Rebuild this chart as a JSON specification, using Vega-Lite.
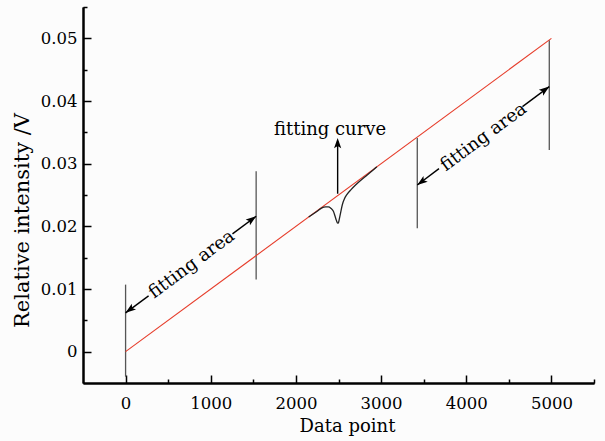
{
  "$schema": "https://vega.github.io/schema/vega-lite/v6.json",
  "width": 511,
  "height": 376,
  "autosize": {"type": "none"},
  "padding": {"left": 83, "top": 7, "right": 11, "bottom": 58},
  "background": "#fcfcfc",
  "config": {"view": {"stroke": null}, "font": "DejaVu Serif"},
  "resolve": {"axis": {"x": "independent", "y": "independent"}},
  "datasets": {
    "line": [{"x": 0, "y": 0}, {"x": 5000, "y": 0.05}],
    "fit": [
      {"x": 2150, "y": 0.0215}, {"x": 2250, "y": 0.0224}, {"x": 2300, "y": 0.0229},
      {"x": 2350, "y": 0.0231}, {"x": 2380, "y": 0.0231}, {"x": 2410, "y": 0.0229},
      {"x": 2440, "y": 0.0224}, {"x": 2460, "y": 0.0216}, {"x": 2475, "y": 0.02095},
      {"x": 2490, "y": 0.0205}, {"x": 2500, "y": 0.0206}, {"x": 2510, "y": 0.0212},
      {"x": 2525, "y": 0.0222}, {"x": 2545, "y": 0.02345}, {"x": 2570, "y": 0.0244},
      {"x": 2600, "y": 0.0251}, {"x": 2650, "y": 0.0259}, {"x": 2700, "y": 0.0266},
      {"x": 2800, "y": 0.0278}, {"x": 2900, "y": 0.0289}, {"x": 2950, "y": 0.0295}
    ],
    "bounds": [
      {"x": 0, "y": -0.004, "y2": 0.0107},
      {"x": 1533, "y": 0.0115, "y2": 0.0288},
      {"x": 3425, "y": 0.0197, "y2": 0.0341},
      {"x": 4975, "y": 0.0322, "y2": 0.0497}
    ],
    "shafts": [
      {"x": 2490, "y": 0.0252, "x2": 2490, "y2": 0.0336},
      {"x": 0, "y": 0.0062, "x2": 270, "y2": 0.0089},
      {"x": 1255, "y": 0.0188, "x2": 1533, "y2": 0.0216},
      {"x": 3425, "y": 0.0266, "x2": 3680, "y2": 0.0292},
      {"x": 4660, "y": 0.0391, "x2": 4975, "y2": 0.0423}
    ],
    "heads": [
      {"x": 2490, "y": 0.0341, "dir": "up"},
      {"x": 0, "y": 0.0062, "dir": "downleft"},
      {"x": 3425, "y": 0.0266, "dir": "downleft"},
      {"x": 1533, "y": 0.0216, "dir": "upright"},
      {"x": 4975, "y": 0.0423, "dir": "upright"}
    ],
    "labels": [
      {"x": 2400, "y": 0.0346, "text": "fitting curve"}
    ],
    "slanted": [
      {"x": 778, "y": 0.0139, "text": "fitting area"},
      {"x": 4205, "y": 0.0342, "text": "fitting area"}
    ]
  },
  "layer": [
    {
      "data": {"name": "bounds"},
      "mark": {"type": "rule", "color": "#555555", "strokeWidth": 1.3},
      "encoding": {
        "x": {
          "field": "x", "type": "quantitative",
          "scale": {"domain": [-500, 5500], "nice": false, "zero": false},
          "axis": {
            "orient": "bottom",
            "title": "Data point",
            "values": [0, 1000, 2000, 3000, 4000, 5000],
            "format": "d",
            "labelOverlap": false, "labelFlush": false,
            "grid": false,
            "domainColor": "black", "domainWidth": 2,
            "tickColor": "black", "tickWidth": 1.5, "tickSize": -8,
            "labelFont": "DejaVu Serif", "labelFontSize": 16.5, "labelColor": "black", "labelPadding": 20,
            "titleFont": "DejaVu Serif", "titleFontSize": 18, "titleFontWeight": "normal", "titleColor": "black",
            "titlePadding": 6, "titleX": 264
          }
        },
        "y": {
          "field": "y", "type": "quantitative",
          "scale": {"domain": [-0.005, 0.055], "nice": false, "zero": false},
          "axis": {
            "orient": "left",
            "title": "Relative intensity /V",
            "values": [0, 0.01, 0.02, 0.03, 0.04, 0.05],
            "format": "~g",
            "labelOverlap": false, "labelFlush": false,
            "grid": false,
            "domainColor": "black", "domainWidth": 2,
            "tickColor": "black", "tickWidth": 1.5, "tickSize": -8,
            "labelFont": "DejaVu Serif", "labelFontSize": 16.5, "labelColor": "black", "labelPadding": 14,
            "titleFont": "DejaVu Serif", "titleFontSize": 21, "titleFontWeight": "normal", "titleColor": "black",
            "titlePadding": 8, "titleY": 213
          }
        },
        "y2": {"field": "y2"}
      }
    },
    {
      "data": {"name": "line"},
      "mark": {"type": "line", "color": "#e63c2a", "strokeWidth": 1.1},
      "encoding": {
        "x": {
          "field": "x", "type": "quantitative",
          "axis": {
            "orient": "bottom", "title": null, "labels": false, "grid": false,
            "values": [500, 1500, 2500, 3500, 4500, 5500],
            "domainColor": "black", "domainWidth": 2,
            "tickColor": "black", "tickWidth": 1.5, "tickSize": -4
          }
        },
        "y": {
          "field": "y", "type": "quantitative",
          "axis": {
            "orient": "left", "title": null, "labels": false, "grid": false,
            "values": [0.005, 0.015, 0.025, 0.035, 0.045, 0.055],
            "domainColor": "black", "domainWidth": 2,
            "tickColor": "black", "tickWidth": 1.5, "tickSize": -4
          }
        }
      }
    },
    {
      "data": {"name": "fit"},
      "mark": {"type": "line", "color": "#222222", "strokeWidth": 1.3, "interpolate": "monotone"},
      "encoding": {
        "x": {"field": "x", "type": "quantitative", "axis": null},
        "y": {"field": "y", "type": "quantitative", "axis": null}
      }
    },
    {
      "data": {"name": "shafts"},
      "mark": {"type": "rule", "color": "black", "strokeWidth": 1.4},
      "encoding": {
        "x": {"field": "x", "type": "quantitative", "axis": null},
        "y": {"field": "y", "type": "quantitative", "axis": null},
        "x2": {"field": "x2"},
        "y2": {"field": "y2"}
      }
    },
    {
      "data": {"name": "heads"},
      "transform": [{"filter": "datum.dir === 'up'"}],
      "mark": {"type": "point", "shape": "M0,0L-0.4,1.15L0,0.9L0.4,1.15Z", "size": 324, "filled": true, "color": "black", "opacity": 1, "angle": 0},
      "encoding": {
        "x": {"field": "x", "type": "quantitative", "axis": null},
        "y": {"field": "y", "type": "quantitative", "axis": null}
      }
    },
    {
      "data": {"name": "heads"},
      "transform": [{"filter": "datum.dir === 'upright'"}],
      "mark": {"type": "point", "shape": "M0,0L-0.4,1.15L0,0.9L0.4,1.15Z", "size": 324, "filled": true, "color": "black", "opacity": 1, "angle": 53.4},
      "encoding": {
        "x": {"field": "x", "type": "quantitative", "axis": null},
        "y": {"field": "y", "type": "quantitative", "axis": null}
      }
    },
    {
      "data": {"name": "heads"},
      "transform": [{"filter": "datum.dir === 'downleft'"}],
      "mark": {"type": "point", "shape": "M0,0L-0.4,1.15L0,0.9L0.4,1.15Z", "size": 324, "filled": true, "color": "black", "opacity": 1, "angle": 233.4},
      "encoding": {
        "x": {"field": "x", "type": "quantitative", "axis": null},
        "y": {"field": "y", "type": "quantitative", "axis": null}
      }
    },
    {
      "data": {"name": "labels"},
      "mark": {"type": "text", "font": "DejaVu Serif", "fontSize": 18, "color": "black", "align": "center", "baseline": "alphabetic"},
      "encoding": {
        "x": {"field": "x", "type": "quantitative", "axis": null},
        "y": {"field": "y", "type": "quantitative", "axis": null},
        "text": {"field": "text"}
      }
    },
    {
      "data": {"name": "slanted"},
      "mark": {"type": "text", "font": "DejaVu Serif", "fontSize": 18, "color": "black", "align": "center", "baseline": "middle", "angle": -36.6},
      "encoding": {
        "x": {"field": "x", "type": "quantitative", "axis": null},
        "y": {"field": "y", "type": "quantitative", "axis": null},
        "text": {"field": "text"}
      }
    }
  ]
}
